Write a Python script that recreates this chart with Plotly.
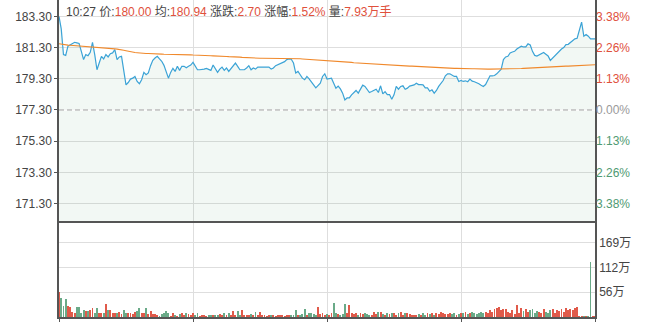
import plotly.graph_objects as go

# ---------------- data ----------------
prev_close = 177.30
hover_time = "10:27"
hover_price = 180.00
hover_avg = 180.94
hover_change = 2.70
hover_pct = 1.52
hover_volume = "7.93万手"

price_ticks = [171.30, 173.30, 175.30, 177.30, 179.30, 181.30, 183.30]
pct_labels = ["3.38%", "2.26%", "1.13%", "0.00%", "1.13%", "2.26%", "3.38%"]
vol_ticks = [0, 56.25, 112.5, 168.75]
vol_labels = ["0", "56万", "112万", "169万"]
time_grid = [60, 120, 180]

price = [
    183.30, 182.50, 180.85, 180.80, 181.39, 181.49, 181.54, 181.64, 181.60, 181.56,
    181.06, 180.53, 180.85, 180.78, 181.00, 181.64, 180.85, 179.88, 180.31, 180.74,
    180.57, 180.85, 180.70, 180.91, 180.96, 181.17, 180.53, 180.70, 180.74, 179.67,
    178.91, 179.06, 179.28, 179.34, 179.45, 179.13, 178.98, 179.24, 179.71, 179.56,
    179.67, 180.14, 180.48, 180.63, 180.74, 180.57, 180.42, 180.16, 179.67, 179.34,
    179.71, 179.97, 179.77, 180.10, 179.84, 180.10, 180.10, 180.00, 180.10, 180.18,
    180.35, 180.10, 179.88, 179.88, 179.88, 179.92, 179.97, 179.88, 179.84, 180.18,
    179.97, 179.71, 179.92, 180.05, 179.84, 179.99, 179.77, 179.97, 180.10, 180.31,
    180.10, 179.88, 179.88, 179.88, 179.99, 180.14, 179.88, 179.99, 179.92, 180.05,
    180.05, 180.05, 180.05, 180.05, 180.05, 179.92, 179.99, 180.14, 180.20, 180.27,
    180.31, 180.40, 180.53, 180.57, 180.55, 180.31, 179.67, 179.77, 179.56, 179.34,
    179.24, 179.45, 179.30, 179.06, 178.91, 178.72, 178.85, 179.02, 179.45, 179.62,
    179.28, 179.32, 179.34, 179.02, 178.70, 178.83, 178.65, 178.38, 177.95, 178.07,
    178.07, 178.27, 178.40, 178.55, 178.38, 178.68, 178.89, 178.81, 178.59, 178.42,
    178.48, 178.57, 178.63, 178.42, 178.85, 178.33, 178.48, 178.29, 178.29, 177.99,
    178.27, 178.81, 178.63, 178.81, 178.85, 178.63, 178.70, 178.83, 178.85, 178.91,
    179.02, 178.93, 178.93, 178.91, 178.72, 178.72, 178.50, 178.59, 178.38, 178.55,
    178.81, 178.98, 179.19, 179.49, 179.62, 179.62, 179.54, 179.45, 179.45, 179.13,
    179.19, 179.13, 179.17, 179.11, 179.28, 179.15, 179.11, 179.06, 178.98, 178.89,
    178.81, 178.93, 179.19, 179.49, 179.49, 179.51, 179.62, 179.75, 179.92, 180.53,
    180.70, 180.74, 180.96, 181.02, 181.06, 181.21, 181.28, 181.39, 181.34, 181.34,
    181.54, 181.47, 181.06, 180.80, 180.76, 180.83, 180.91, 180.98, 180.87, 180.76,
    180.48, 180.63, 180.78, 180.93, 181.06, 181.21, 181.30, 181.49, 181.51, 181.64,
    181.77, 181.86, 181.90, 182.46, 182.93, 182.03, 182.14, 182.03, 181.86, 181.86,
    181.86,
]

avg_price = [
    181.55, 181.52, 181.49, 181.47, 181.46, 181.45, 181.44, 181.44, 181.43, 181.42,
    181.41, 181.41, 181.40, 181.39, 181.38, 181.36, 181.35, 181.34, 181.32, 181.31,
    181.30, 181.28, 181.26, 181.25, 181.23, 181.22, 181.20, 181.19, 181.17, 181.13,
    181.10, 181.06, 181.02, 181.00, 180.98, 180.97, 180.95, 180.93, 180.93, 180.92,
    180.92, 180.92, 180.91, 180.91, 180.90, 180.89, 180.88, 180.87, 180.87, 180.86,
    180.85, 180.85, 180.85, 180.84, 180.84, 180.84, 180.84, 180.83, 180.83, 180.83,
    180.82, 180.82, 180.82, 180.82, 180.81, 180.81, 180.80, 180.79, 180.78, 180.77,
    180.77, 180.76, 180.75, 180.74, 180.73, 180.73, 180.72, 180.72, 180.71, 180.71,
    180.70, 180.69, 180.67, 180.66, 180.64, 180.63, 180.63, 180.63, 180.63, 180.62,
    180.62, 180.62, 180.62, 180.61, 180.61, 180.61, 180.61, 180.61, 180.61, 180.61,
    180.61, 180.61, 180.61, 180.61, 180.60, 180.60, 180.59, 180.58, 180.58, 180.57,
    180.56, 180.56, 180.55, 180.54, 180.54, 180.53, 180.52, 180.51, 180.51, 180.50,
    180.49, 180.49, 180.48, 180.47, 180.46, 180.44, 180.43, 180.41, 180.40, 180.38,
    180.36, 180.35, 180.33, 180.32, 180.30, 180.29, 180.27, 180.26, 180.26, 180.25,
    180.24, 180.23, 180.23, 180.22, 180.21, 180.20, 180.20, 180.19, 180.18, 180.17,
    180.17, 180.16, 180.15, 180.14, 180.14, 180.13, 180.12, 180.11, 180.11, 180.10,
    180.09, 180.08, 180.08, 180.07, 180.06, 180.05, 180.05, 180.04, 180.03, 180.03,
    180.02, 180.01, 180.01, 180.00, 179.99, 179.99, 179.98, 179.97, 179.97, 179.96,
    179.95, 179.95, 179.95, 179.94, 179.94, 179.94, 179.94, 179.93, 179.93, 179.93,
    179.93, 179.93, 179.92, 179.92, 179.92, 179.92, 179.92, 179.92, 179.93, 179.93,
    179.93, 179.94, 179.94, 179.94, 179.95, 179.95, 179.96, 179.96, 179.97, 179.98,
    179.98, 179.99, 180.00, 180.01, 180.02, 180.03, 180.03, 180.04, 180.05, 180.06,
    180.06, 180.07, 180.08, 180.08, 180.09, 180.09, 180.10, 180.11, 180.11, 180.12,
    180.12, 180.13, 180.13, 180.14, 180.15, 180.16, 180.17, 180.17, 180.18, 180.19,
    180.20,
]

# volume in 万
volume = [
    57, 44, 25, 40, 25, 23, 11, 10, 23, 23, 10, 17, 14, 14, 15, 21, 10, 21, 8, 8,
    8, 29, 17, 15, 10, 10, 8, 11, 6, 17, 8, 8, 8, 6, 12, 14, 21, 8, 8, 21,
    6, 14, 6, 6, 4, 2, 6, 8, 14, 10, 2, 8, 4, 2, 6, 8, 4, 10, 6, 4,
    8, 4, 8, 2, 4, 5, 2, 4, 5, 3, 4, 5, 6, 3, 8, 5, 8, 5, 14, 4,
    14, 3, 16, 5, 3, 5, 6, 4, 11, 5, 12, 3, 4, 2, 3, 5, 4, 2, 5, 3,
    4, 2, 4, 4, 5, 3, 17, 4, 5, 6, 18, 5, 8, 9, 6, 5, 23, 6, 9, 5,
    7, 5, 8, 31, 9, 6, 4, 7, 29, 10, 27, 8, 6, 9, 5, 8, 7, 10, 6, 5,
    5, 12, 6, 11, 12, 7, 5, 9, 6, 10, 9, 4, 8, 12, 5, 8, 9, 6, 4, 5,
    3, 6, 5, 8, 4, 9, 6, 8, 5, 9, 6, 11, 8, 6, 7, 10, 6, 8, 5, 6,
    8, 8, 11, 6, 9, 11, 8, 6, 9, 11, 9, 11, 9, 15, 11, 19, 21, 23, 17, 19,
    19, 11, 8, 17, 6, 27, 9, 21, 14, 19, 11, 15, 19, 9, 14, 11, 9, 19, 11, 8,
    15, 19, 9, 17, 14, 19, 11, 21, 15, 19, 17, 21, 23, 1.5, 1.5, 1.5, 1.5, 1.5, 125, 1.5,
    1.5,
]

# ---------------- styling ----------------
RED = "#e0503c"
GREEN = "#4f9a72"
GRAY_TXT = "#9a9a9a"
AXIS = "#555555"
GRID = "#dedede"
FONT = "Liberation Sans, Noto Sans CJK SC, sans-serif"

x_price = list(range(len(price)))
x_avg = list(range(len(avg_price)))
x_vol = list(range(len(volume)))

bar_colors = []
for i, v in enumerate(volume):
    prev = prev_close if i == 0 else price[min(i, len(price) - 1) - 1]
    cur = price[min(i, len(price) - 1)]
    bar_colors.append("#e05a4a" if cur >= prev else "#6aaa88")

y_lo, y_hi = 170.12, 184.35
pct = lambda v: (v - prev_close) / prev_close * 100

pct_ticktext = []
for v, lab in zip(price_ticks, pct_labels):
    c = RED if v > prev_close + 1e-9 else (GREEN if v < prev_close - 1e-9 else GRAY_TXT)
    pct_ticktext.append(f"<span style='color:{c}'>{lab}</span>")

fig = go.Figure()
fig.add_trace(go.Scatter(
    x=x_price, y=price, mode="lines",
    line=dict(color="#3ba3d6", width=1.2),
    fill="tozeroy", fillcolor="rgba(70,150,100,0.07)",
    xaxis="x", yaxis="y", hoverinfo="skip", showlegend=False))
fig.add_trace(go.Scatter(
    x=x_avg, y=avg_price, mode="lines",
    line=dict(color="#f0892c", width=1.1),
    xaxis="x", yaxis="y", hoverinfo="skip", showlegend=False))
# same price series in percent terms, invisible, so the right-hand % axis is drawn
fig.add_trace(go.Scatter(
    x=x_price, y=[pct(p) for p in price], mode="lines",
    line=dict(color="rgba(0,0,0,0)", width=0),
    xaxis="x", yaxis="y2", hoverinfo="skip", showlegend=False))
fig.add_trace(go.Bar(
    x=x_vol, y=volume, marker=dict(color=bar_colors, line=dict(width=0)),
    width=0.42, xaxis="x2", yaxis="y3", hoverinfo="skip", showlegend=False))

H_PLOT = 317.0
main_dom = [(317 - 222) / H_PLOT, 1.0]
vol_dom = [0.0, (317 - 223) / H_PLOT]

fig.update_layout(
    width=647, height=322,
    margin=dict(l=59, r=52, t=0, b=5),
    paper_bgcolor="white", plot_bgcolor="white",
    font=dict(family=FONT, size=12, color="#444"),
    bargap=0,
    xaxis=dict(domain=[0, 1], anchor="y", range=[0, 240],
               tickvals=time_grid, showticklabels=False, ticks="",
               showgrid=True, gridcolor=GRID, gridwidth=1,
               zeroline=False, showline=False),
    yaxis=dict(domain=main_dom, anchor="x", range=[y_lo, y_hi],
               tickvals=price_ticks, ticktext=[f"{v:.2f}" for v in price_ticks],
               ticks="outside", ticklen=3, tickcolor=AXIS,
               showgrid=True, gridcolor=GRID, zeroline=False,
               showline=True, linecolor=AXIS, linewidth=1.5, mirror=True,
               tickfont=dict(size=12, color="#444")),
    yaxis2=dict(overlaying="y", side="right", anchor="x",
                range=[pct(y_lo), pct(y_hi)],
                tickvals=[pct(v) for v in price_ticks], ticktext=pct_ticktext,
                showgrid=False, zeroline=False, showline=False, ticks="",
                tickfont=dict(size=12)),
    xaxis2=dict(domain=[0, 1], anchor="y3", range=[0, 240],
                tickvals=[0] + time_grid + [240], showticklabels=False,
                ticks="outside", ticklen=3, tickcolor=AXIS,
                showgrid=True, gridcolor=GRID, zeroline=False,
                showline=True, linecolor=AXIS, linewidth=1.5, mirror=True),
    yaxis3=dict(domain=vol_dom, anchor="x2", side="right", range=[0, 213],
                tickvals=vol_ticks, ticktext=vol_labels, ticks="",
                showgrid=True, gridcolor=GRID, zeroline=False,
                showline=True, linecolor=AXIS, linewidth=1.5, mirror=True,
                tickfont=dict(size=12, color="#444")),
)

# dashed previous-close line
fig.add_shape(type="line", xref="x domain", yref="y", x0=0, x1=1,
              y0=prev_close, y1=prev_close, layer="above",
              line=dict(color="white", width=1.5))
fig.add_shape(type="line", xref="x domain", yref="y", x0=0, x1=1,
              y0=prev_close, y1=prev_close, layer="above",
              line=dict(color="#a0a0a0", width=1, dash="5px,3px"))

lab = "#444"
header = (f"<span style='color:{lab}'>{hover_time} 价:</span><span style='color:{RED}'>{hover_price:.2f}</span>"
          f"<span style='color:{lab}'> 均:</span><span style='color:{RED}'>{hover_avg:.2f}</span>"
          f"<span style='color:{lab}'> 涨跌:</span><span style='color:{RED}'>{hover_change:.2f}</span>"
          f"<span style='color:{lab}'> 涨幅:</span><span style='color:{RED}'>{hover_pct:.2f}%</span>"
          f"<span style='color:{lab}'> 量:</span><span style='color:{RED}'>{hover_volume}</span>")
fig.add_annotation(text=header, xref="paper", yref="paper", x=5 / 536, y=1,
                   xanchor="left", yanchor="top", yshift=-2, showarrow=False,
                   font=dict(size=12, family=FONT), bgcolor="rgba(0,0,0,0)")

fig.write_html("out.html")
